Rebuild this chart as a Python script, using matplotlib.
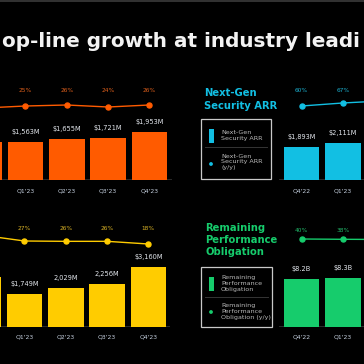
import numpy as np
import matplotlib
matplotlib.use('Agg')
import matplotlib.pyplot as plt
from matplotlib.patches import Rectangle, Circle
from matplotlib.transforms import blended_transform_factory

W = H = 364

TITLE = "op-line growth at industry leadi"

# revenue (top left, cut off at the left edge)
REV_Q = ["Q4'22", "Q1'23", "Q2'23", "Q3'23", "Q4'23"]
REV = [1550, 1563, 1655, 1721, 1953]
REV_LBL = ["", "$1,563M", "$1,655M", "$1,721M", "$1,953M"]
REV_YY = [23, 25, 26, 24, 26]

# billings (bottom left)
BILL_Q = ["Q4'22", "Q1'23", "Q2'23", "Q3'23", "Q4'23"]
BILL = [2630, 1749, 2029, 2256, 3160]
BILL_LBL = ["", "$1,749M", "2,029M", "2,256M", "$3,160M"]
BILL_YY = [44, 27, 26, 26, 18]

# next-gen security ARR (top right, cut off at the right edge)
NGS_Q = ["Q4'22", "Q1'23", "Q2'23"]
NGS = [1893, 2111]
NGS_LBL = ["$1,893M", "$2,111M"]
NGS_YY = [60, 67, 72]

# remaining performance obligation (bottom right)
RPO_Q = ["Q4'22", "Q1'23", "Q2'23"]
RPO = [8.2, 8.3]
RPO_LBL = ["$8.2B", "$8.3B"]
RPO_YY = [40, 38, 37]

VALUE_COLOR = '#e2e6ec'
QUARTER_COLOR = '#c3cedd'
STEP = 41.3


def panel(fig, ov, x0, x1, top, base, c0, quarters, bars, lbls, yy, scale,
          g_ref, g_px, g_slope, color, pct_color, pct_y, q_y):
    """bar chart with a y/y line above it, laid out in pixels"""
    ax = fig.add_axes([x0 / W, 1 - base / H, (x1 - x0) / W, (base - top) / H])
    ax.set_xlim((x0 - c0) / STEP, (x1 - c0) / STEP)
    ax.set_ylim(0, (base - top) / scale)
    ax.axis('off')
    ax.axhline(0, color='#2c2c2c', lw=1.4, zorder=1)
    xs = np.arange(len(bars))
    ax.bar(xs, bars, width=35.5 / STEP, color=color, zorder=2)
    for i, (v, s) in enumerate(zip(bars, lbls)):
        if s:
            ax.annotate(s, (i, v), xytext=(0, 10), textcoords='offset pixels',
                        ha='center', va='center', fontsize=4.8, color=VALUE_COLOR)

    tw = ax.twinx()
    low = g_ref - (base - g_px) / g_slope
    tw.set_ylim(low, low + (base - top) / g_slope)
    tw.axis('off')
    tw.plot(np.arange(len(yy)), yy, color=color, lw=1.0, marker='o', ms=3.6)

    tr = blended_transform_factory(ax.transData, ov.transData)
    for i, p in enumerate(yy):
        cx = c0 + STEP * i
        if 5 < cx < W - 5:
            ax.text(i, pct_y, f'{p}%', transform=tr, ha='center', va='center',
                    fontsize=4.2, color=pct_color)
    for i, q in enumerate(quarters):
        cx = c0 + STEP * i
        if 5 < cx < W - 5:
            ax.text(i, q_y, q, transform=tr, ha='center', va='center',
                    fontsize=4.4, color=QUARTER_COLOR)


def legend_box(ov, x, y, w, h, color, top_lbl, top_cy, sep_y, dot_y, bot_lbl, bot_cy):
    ov.add_patch(Rectangle((x, y), w, h, fill=False, ec='#c9c9c9', lw=0.9))
    ov.add_patch(Rectangle((x + 8, top_cy - 7), 5, 14, color=color, lw=0))
    ov.text(x + 20, top_cy, top_lbl, va='center', ha='left', fontsize=4.6,
            color='#b9b9b9', linespacing=1.15)
    ov.plot([x + 4, x + w - 4], [sep_y, sep_y], color='#353535', lw=0.7)
    ov.add_patch(Circle((x + 10, dot_y), 1.9, color=color, lw=0))
    ov.text(x + 20, bot_cy, bot_lbl, va='center', ha='left', fontsize=4.6,
            color='#b9b9b9', linespacing=1.15)


def main():
    fig = plt.figure(figsize=(W / 100, H / 100), dpi=100, facecolor='black')
    ov = fig.add_axes([0, 0, 1, 1])
    ov.set_xlim(0, W)
    ov.set_ylim(H, 0)
    ov.axis('off')

    ov.plot([0, W], [0.5, 0.5], color='#3c3c3c', lw=1.2)
    title = ov.text(2, 47, TITLE, fontsize=18, fontweight='bold',
                    color='#f3f3f3', va='baseline', ha='left')
    fig.canvas.draw()
    width = title.get_window_extent().width
    title.set_fontsize(18 * 359 / width)

    orange, yellow = '#ff5b00', '#ffcc00'
    cyan, green = '#12bfe3', '#16cc6c'

    panel(fig, ov, -45, 172, 80, 180, 25.5 - STEP, REV_Q, REV, REV_LBL, REV_YY,
          0.0246, 25, 106, 1.0, orange, '#e0601c', 91, 191)
    panel(fig, ov, -45, 170, 225, 327, 24.5 - STEP, BILL_Q, BILL, BILL_LBL, BILL_YY,
          0.019, 27, 241, 0.333, yellow, '#d9b226', 228, 337)
    panel(fig, ov, 279, 430, 80, 180, 301.5, NGS_Q, NGS, NGS_LBL, NGS_YY,
          0.0175, 60, 106, 0.43, cyan, '#1cb2d2', 91, 191)
    panel(fig, ov, 279, 430, 225, 327, 301.5, RPO_Q, RPO, RPO_LBL, RPO_YY,
          5.85, 40, 239, 0.15, green, '#22b86a', 230, 337)

    ov.text(204, 99.5, 'Next-Gen\nSecurity ARR', ha='left', va='center',
            fontsize=7.2, fontweight='bold', color=cyan, linespacing=1.3)
    ov.text(205, 240, 'Remaining\nPerformance\nObligation', ha='left', va='center',
            fontsize=7.2, fontweight='bold', color=green, linespacing=1.3)

    legend_box(ov, 201, 119, 70, 60, cyan, 'Next-Gen\nSecurity ARR', 135.5,
               147, 164, 'Next-Gen\nSecurity ARR\n(y/y)', 162)
    legend_box(ov, 201, 267, 71, 60, green, 'Remaining\nPerformance\nObligation', 283.5,
               297, 312, 'Remaining\nPerformance\nObligation (y/y)', 311.5)

    fig.savefig('out.png', dpi=100, facecolor='black')


if __name__ == '__main__':
    main()
